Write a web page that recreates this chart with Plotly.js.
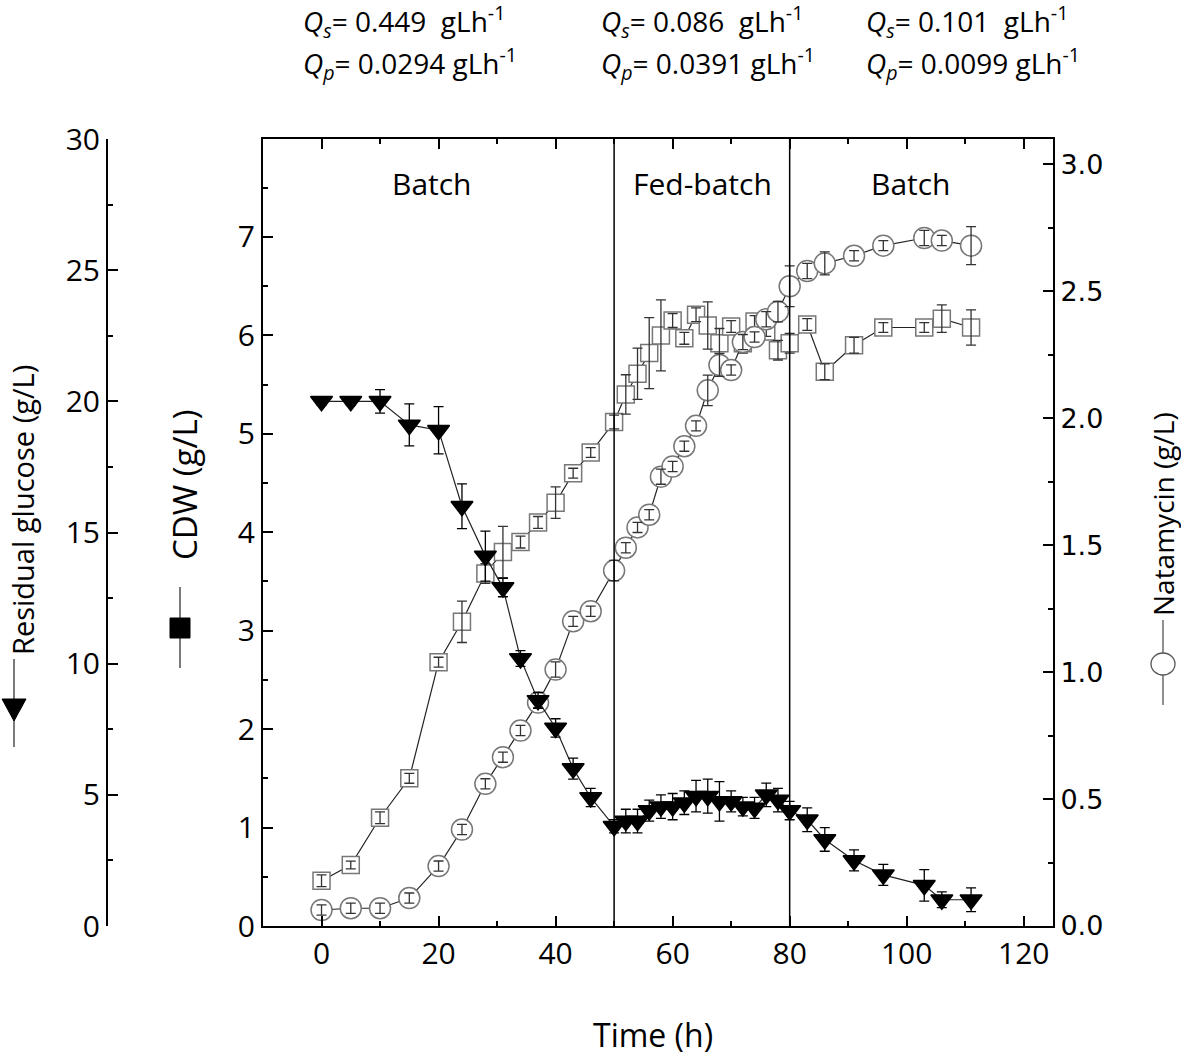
<!DOCTYPE html>
<html>
<head>
<meta charset="utf-8">
<script src="https://cdn.plot.ly/plotly-3.0.1.min.js"></script>
<style>html,body{margin:0;padding:0;background:#fff;}</style>
</head>
<body>
<div id="chart" style="width:1181px;height:1056px;"></div>
<script>
// ---- data ----
const timeH = [0,5,10,15,20,24,28,31,34,37,40,43,46,50,52,54,56,58,60,62,64,66,68,70,72,74,76,78,80,83,86,91,96,103,106,111];
const glucose = [20.0,20.0,20.0,19.1,18.9,16.0,14.1,12.9,10.2,8.6,7.55,6.0,4.9,3.8,4.0,4.0,4.4,4.55,4.55,4.7,4.95,4.95,4.75,4.75,4.55,4.5,5.0,4.8,4.4,4.05,3.3,2.5,1.95,1.55,1.0,1.0];
const glucoseErr = [0.15,0.15,0.45,0.8,0.9,0.85,0.95,0.35,0.3,0.3,0.35,0.4,0.35,0.25,0.45,0.45,0.4,0.45,0.5,0.45,0.6,0.65,0.75,0.4,0.35,0.4,0.45,0.45,0.35,0.45,0.45,0.4,0.4,0.6,0.3,0.45];
const cdw = [0.46,0.62,1.1,1.5,2.68,3.09,3.58,3.8,3.9,4.1,4.3,4.6,4.81,5.12,5.4,5.61,5.82,6.0,6.15,5.97,6.21,6.1,5.92,6.09,5.92,6.14,6.04,5.85,5.92,6.11,5.63,5.9,6.08,6.08,6.17,6.08];
const cdwErr = [0.06,0.04,0.06,0.05,0.05,0.21,0.1,0.26,0.06,0.06,0.16,0.05,0.05,0.07,0.2,0.26,0.36,0.36,0.07,0.06,0.07,0.24,0.15,0.06,0.1,0.06,0.05,0.1,0.1,0.06,0.08,0.08,0.05,0.05,0.14,0.18];
const natamycin = [0.063,0.07,0.07,0.11,0.236,0.38,0.56,0.665,0.77,0.88,1.01,1.2,1.24,1.4,1.49,1.57,1.62,1.77,1.81,1.89,1.97,2.11,2.21,2.19,2.30,2.32,2.39,2.42,2.52,2.58,2.61,2.64,2.68,2.71,2.70,2.68];
const natamycinErr = [0.02,0.02,0.02,0.02,0.02,0.02,0.02,0.02,0.02,0.02,0.03,0.02,0.02,0.04,0.02,0.02,0.02,0.03,0.02,0.02,0.02,0.06,0.045,0.02,0.03,0.02,0.03,0.04,0.08,0.03,0.045,0.02,0.02,0.03,0.02,0.075];
const phaseBounds = [50, 80];
const phaseLabels = ["Batch", "Fed-batch", "Batch"];
const rateLines1 = ["0.449\u00a0\u00a0gLh", "0.086\u00a0\u00a0gLh", "0.101\u00a0\u00a0gLh"];
const rateLines2 = ["0.0294 gLh", "0.0391 gLh", "0.0099 gLh"];

// ---- layout helpers (pixel -> paper) ----
const W = 1181, H = 1056, ML = 60, MR = 128, MT = 139, MB = 130;
const PW = W - ML - MR, PH = H - MT - MB;
const px = p => (p - ML) / PW;
const py = p => (H - MB - p) / PH;

const FONT = "Open Sans, Noto Sans, sans-serif";
const markerGray = "#777777";

function seriesTraces(y, err, yaxis, symbol, size, fill, lineCol, errCol) {
  return [
    {
      x: timeH, y: y, yaxis: yaxis, type: "scatter", mode: "lines+markers",
      line: {color: "#222", width: 1.2},
      marker: {symbol: symbol, size: size, color: fill, line: {color: lineCol, width: 1.5}},
      hoverinfo: "skip", showlegend: false
    },
    {
      x: timeH, y: y, yaxis: yaxis, type: "scatter", mode: "markers",
      marker: {size: 1, color: "rgba(0,0,0,0)"},
      error_y: {type: "data", array: err, visible: true, color: errCol, thickness: 1.3, width: 5},
      hoverinfo: "skip", showlegend: false
    }
  ];
}

const traces = [].concat(
  seriesTraces(cdw, cdwErr, "y", "square", 17, "#ffffff", markerGray, "#333"),
  seriesTraces(natamycin, natamycinErr, "y2", "circle", 21, "#ffffff", markerGray, "#333"),
  seriesTraces(glucose, glucoseErr, "y3", "triangle-down", 19, "#000000", "#000000", "#000")
);

const axisCommon = {
  showgrid: false, zeroline: false, showline: true, linecolor: "#000", linewidth: 2,
  ticks: "inside", ticklen: 10, tickwidth: 2, tickcolor: "#000",
  tickfont: {family: FONT, size: 30, color: "#000"}
};

const shapes = [];
phaseBounds.forEach(b => shapes.push({type: "line", xref: "x", yref: "paper", x0: b, x1: b, y0: 0, y1: 1, line: {color: "#000", width: 1.5}}));
// axis-title legend glyphs
shapes.push({type: "line", xref: "paper", yref: "paper", x0: px(14), x1: px(14), y0: py(659), y1: py(747), line: {color: "#333", width: 1.3}});
shapes.push({type: "path", xref: "paper", yref: "paper",
  path: `M${px(2)},${py(699)} L${px(26)},${py(699)} L${px(14)},${py(721)} Z`, fillcolor: "#000", line: {color: "#000", width: 1}});
shapes.push({type: "line", xref: "paper", yref: "paper", x0: px(180), x1: px(180), y0: py(587), y1: py(668), line: {color: "#333", width: 1.3}});
shapes.push({type: "rect", xref: "paper", yref: "paper", x0: px(170), x1: px(190), y0: py(618), y1: py(638), fillcolor: "#000", line: {color: "#000", width: 1}});
shapes.push({type: "line", xref: "paper", yref: "paper", x0: px(1163), x1: px(1163), y0: py(620), y1: py(705), line: {color: "#555", width: 1.3}});
shapes.push({type: "circle", xref: "paper", yref: "paper", x0: px(1151), x1: px(1175), y0: py(675), y1: py(653), fillcolor: "#fff", line: {color: "#555", width: 1.3}});

function ann(text, x, y, size, extra) {
  return Object.assign({text: text, xref: "paper", yref: "paper", x: px(x), y: py(y), xanchor: "center", yanchor: "middle",
    showarrow: false, font: {family: FONT, size: size, color: "#000"}}, extra || {});
}

const annotations = [
  ann("Time (h)", 653, 1034, 32),
  ann("Residual glucose (g/L)", 22, 510, 29, {textangle: -90}),
  ann("CDW (g/L)", 184, 485, 33, {textangle: -90}),
  ann("Natamycin (g/L)", 1163, 514, 28, {textangle: -90})
];
const phaseX = [432, 702, 911];
phaseLabels.forEach((t, i) => annotations.push(ann(t, phaseX[i], 183, 30)));
const rateX = [301, 599, 864];
rateLines1.forEach((t, i) => annotations.push(ann("<i>Q</i><sub><i>s</i></sub>= " + t + "<sup>-1</sup>", rateX[i], 21, 28, {xanchor: "left"})));
rateLines2.forEach((t, i) => annotations.push(ann("<i>Q</i><sub><i>p</i></sub>= " + t + "<sup>-1</sup>", rateX[i], 64, 28, {xanchor: "left"})));

const layout = {
  width: W, height: H,
  margin: {l: ML, r: MR, t: MT, b: MB, pad: 0},
  paper_bgcolor: "#fff", plot_bgcolor: "#fff",
  showlegend: false,
  xaxis: Object.assign({}, axisCommon, {
    domain: [px(263), 1], range: [-10, 125], tick0: 0, dtick: 20, mirror: "ticks",
    minor: {dtick: 10, ticks: "inside", ticklen: 5, tickwidth: 2, tickcolor: "#000"}
  }),
  yaxis: Object.assign({}, axisCommon, {
    range: [0, 7.995], tick0: 0, dtick: 1, anchor: "x", side: "left",
    minor: {dtick: 0.5, ticks: "inside", ticklen: 5, tickwidth: 2, tickcolor: "#000"}
  }),
  yaxis2: Object.assign({}, axisCommon, {
    range: [0, 3.1], tick0: 0, dtick: 0.5, tickformat: ".1f", anchor: "x", side: "right", overlaying: "y",
    tickfont: {family: "DejaVu Sans, sans-serif", size: 27, color: "#000"},
    minor: {dtick: 0.25, ticks: "inside", ticklen: 5, tickwidth: 2, tickcolor: "#000"}
  }),
  yaxis3: Object.assign({}, axisCommon, {
    range: [0, 30], tick0: 0, dtick: 5, anchor: "free", position: px(107), side: "left", overlaying: "y",
    minor: {dtick: 2.5, ticks: "inside", ticklen: 5, tickwidth: 2, tickcolor: "#000"}
  }),
  shapes: shapes,
  annotations: annotations
};

Plotly.newPlot("chart", traces, layout, {displayModeBar: false, staticPlot: true});
</script>
</body>
</html>
